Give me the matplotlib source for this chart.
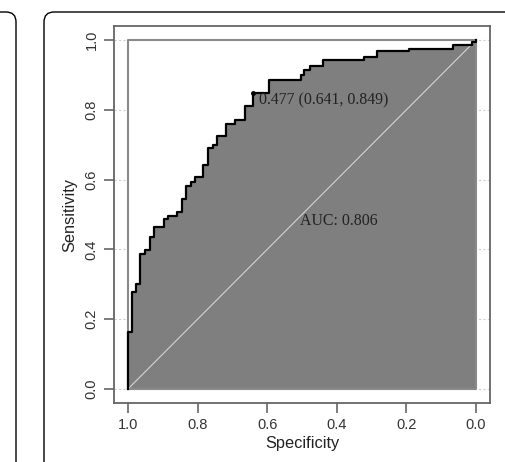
import numpy as np
import matplotlib.pyplot as plt
from matplotlib.patches import FancyBboxPatch, Rectangle
from matplotlib.transforms import IdentityTransform

# ROC staircase: specificity where each vertical step sits,
# and the sensitivity it climbs to
spec_steps = [1.0, 0.988, 0.976, 0.964, 0.951, 0.938, 0.924, 0.897, 0.885, 0.859,
              0.845, 0.832, 0.820, 0.808, 0.784, 0.770, 0.757, 0.744, 0.719, 0.693,
              0.664, 0.641, 0.594, 0.502, 0.494, 0.477, 0.439, 0.321, 0.286, 0.192,
              0.067, 0.012, 0.0]
sens_steps = [0.162, 0.277, 0.302, 0.388, 0.397, 0.436, 0.463, 0.488, 0.497, 0.507,
              0.545, 0.583, 0.592, 0.607, 0.641, 0.690, 0.699, 0.725, 0.759, 0.772,
              0.812, 0.849, 0.886, 0.899, 0.913, 0.926, 0.944, 0.952, 0.968, 0.974,
              0.986, 0.995, 1.0]

best_thr = 0.477
best_spec = 0.641
best_sens = 0.849
auc = 0.806

ticks = [0.0, 0.2, 0.4, 0.6, 0.8, 1.0]

x = np.array(spec_steps + [0.0])
y = np.array([0.0] + sens_steps)

fig = plt.figure(figsize=(5.05, 4.62), dpi=100)
ax = fig.add_axes([114/505, 59/462, 376/505, 377/462])

# grid only shows in the margins, the unit square is painted over it
for t in ticks:
    ax.axhline(t, color='#cfcfcf', lw=0.8, ls=(0, (2, 2)), zorder=0)
ax.add_patch(Rectangle((0, 0), 1, 1, fc='white', ec='none', zorder=0.5))

ax.fill_between(x, y, 0, step='pre', color='#7f7f7f', lw=0, zorder=1)
# frame of the unit square
ax.plot([1, 1, 0, 0, 1], [0, 1, 1, 0, 0], color='#8a8a8a', lw=1.5, zorder=1.5)
ax.plot([1, 0], [0, 1], color='#d4d4d4', lw=0.8, zorder=2)
ax.step(x, y, where='pre', color='black', lw=1.6, zorder=3)
ax.plot([best_spec], [best_sens], 'o', color='black', ms=2.5, zorder=4)

ax.text(0.624, 0.828, '%.3f (%.3f, %.3f)' % (best_thr, best_spec, best_sens),
        family='Liberation Serif', fontsize=11.4, color='#222222', va='center', ha='left', zorder=5)
ax.text(0.506, 0.481, 'AUC: %.3f' % auc,
        family='Liberation Serif', fontsize=11.4, color='#222222', va='center', ha='left', zorder=5)

ax.set_xlim(1.04, -0.04)
ax.set_ylim(-0.04, 1.04)
ax.set_xticks(ticks)
ax.set_yticks(ticks)
ax.set_xticklabels(['%.1f' % t for t in ticks])
ax.set_yticklabels(['%.1f' % t for t in ticks], rotation=90, va='center')
ax.tick_params(length=7, width=1.2, color='#666666', labelcolor='#333333',
               labelsize=10.5, pad=4)
for s in ax.spines.values():
    s.set_color('#666666')
    s.set_linewidth(1.3)

ax.set_xlabel('Specificity', fontsize=11.8, color='#222222', family='Liberation Sans', labelpad=3)
ax.set_ylabel('Sensitivity', fontsize=11.8, color='#222222', family='Liberation Sans', labelpad=5)
for lab in ax.get_xticklabels() + ax.get_yticklabels():
    lab.set_family('Liberation Sans')

# rounded panel frames
fig.patches.append(FancyBboxPatch((44, -60), 600, 510, boxstyle='round,pad=0,rounding_size=10',
                                  transform=IdentityTransform(), fill=False, ec='black', lw=1.0))
fig.patches.append(FancyBboxPatch((-100, -60), 116, 510, boxstyle='round,pad=0,rounding_size=10',
                                  transform=IdentityTransform(), fill=False, ec='black', lw=1.0))

plt.savefig('out.png', dpi=100)
